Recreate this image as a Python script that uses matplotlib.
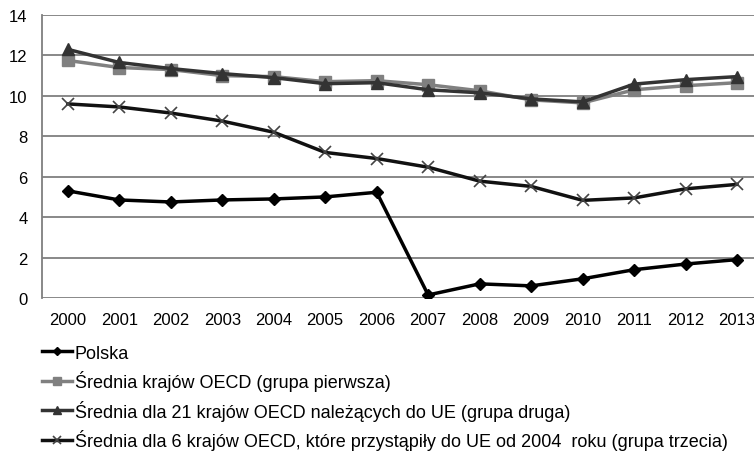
import matplotlib.pyplot as plt

plt.rcParams['font.family'] = ['Liberation Sans', 'DejaVu Sans']

years = ['2000', '2001', '2002', '2003', '2004', '2005', '2006',
         '2007', '2008', '2009', '2010', '2011', '2012', '2013']

polska = [5.3, 4.85, 4.75, 4.85, 4.9, 5.0, 5.23, 0.15, 0.7, 0.6, 0.95, 1.4, 1.68, 1.9]
grupa1 = [11.75, 11.4, 11.3, 11.0, 10.95, 10.7, 10.75, 10.55, 10.25, 9.8, 9.65, 10.3, 10.5, 10.65]
grupa2 = [12.3, 11.65, 11.35, 11.1, 10.9, 10.6, 10.65, 10.3, 10.15, 9.85, 9.7, 10.58, 10.8, 10.95]
grupa3 = [9.6, 9.45, 9.15, 8.75, 8.2, 7.2, 6.9, 6.47, 5.78, 5.52, 4.83, 4.95, 5.4, 5.62]

labels = ['Polska',
          'Średnia krajów OECD (grupa pierwsza)',
          'Średnia dla 21 krajów OECD należących do UE (grupa druga)',
          'Średnia dla 6 krajów OECD, które przystąpiły do UE od 2004  roku (grupa trzecia)']

fig = plt.figure(figsize=(7.54, 4.64), dpi=100)
ax = fig.add_axes([0.0557, 0.3556, 0.956, 0.61])

x = range(len(years))
ax.plot(x, grupa1, color='#808080', lw=2.5, marker='s', ms=8, label=labels[1], zorder=3)
ax.plot(x, grupa2, color='#333333', lw=2.5, marker='^', ms=9, label=labels[2], zorder=4)
ax.plot(x, grupa3, color='#111111', lw=2.5, marker='x', ms=9, mew=1.2, mec='#444444', label=labels[3], zorder=3)
ax.plot(x, polska, color='black', lw=2.5, marker='D', ms=6.5, label=labels[0], zorder=5)

ax.set_xlim(-0.5, 13.5)
ax.set_ylim(0, 14)
ax.set_yticks(range(0, 15, 2))
ax.set_xticks(list(x))
ax.set_xticklabels(years)
ax.tick_params(length=0, labelsize=12)
ax.tick_params(axis='x', pad=10)
ax.tick_params(axis='y', pad=10.5)
ax.grid(axis='y', color='#7f7f7f', lw=1.3)
ax.set_axisbelow(True)
for s in ['top', 'right', 'bottom']:
    ax.spines[s].set_visible(False)
ax.spines['left'].set_color('#7f7f7f')
ax.spines['left'].set_linewidth(1.3)

h, l = ax.get_legend_handles_labels()
order = [3, 0, 1, 2]
fig.legend([h[i] for i in order], [l[i] for i in order], loc='upper left',
           bbox_to_anchor=(0.0557, 0.255), frameon=False, fontsize=13,
           handlelength=1.67, handletextpad=0.15, labelspacing=0.47,
           markerscale=0.7, borderaxespad=0, borderpad=0)

fig.savefig('out.png', dpi=100)
